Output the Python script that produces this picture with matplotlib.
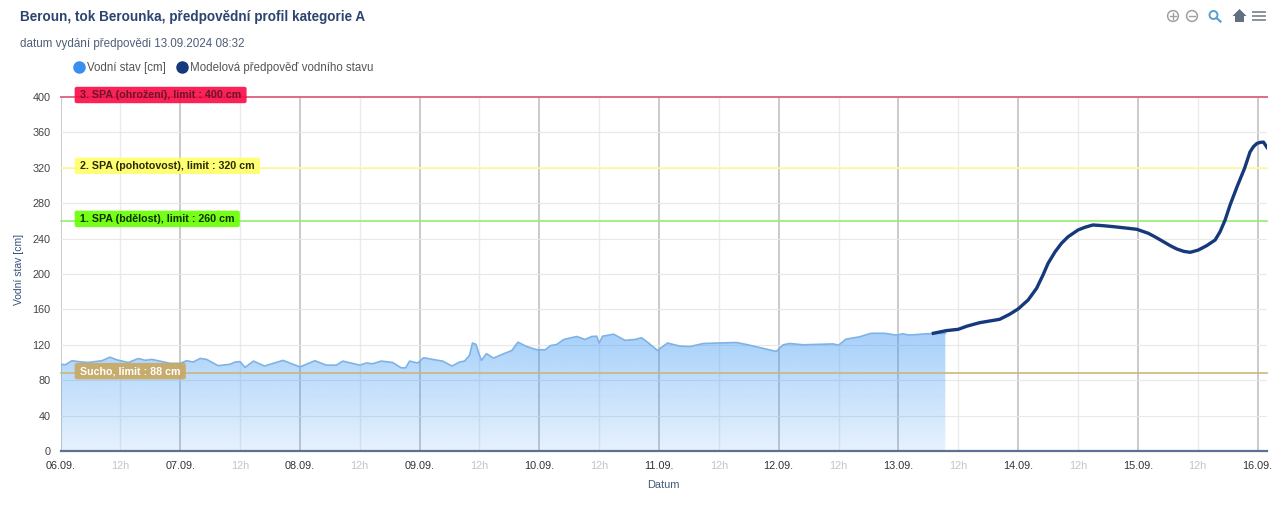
import matplotlib
matplotlib.use('Agg')
import matplotlib.pyplot as plt
from matplotlib.colors import LinearSegmentedColormap
from matplotlib.lines import Line2D
from matplotlib.patches import Circle, Rectangle, Polygon
import numpy as np

plt.rcParams['font.family'] = ['Liberation Sans', 'DejaVu Sans']

# hours since 06.09. 00:00
obs_hours = [0, 1, 2.3, 3.6, 5.5, 8.3, 9.9, 11.3, 13.6, 15.6, 17, 18.3, 20, 22, 24, 25.3, 26.6, 28, 29.3, 31.6,
             34, 35, 36, 37, 38.7, 40.9, 44.6, 48, 51, 53.3, 55.3, 56.6, 60, 61.3, 62.6, 64.3, 66.6, 68.3, 69.2,
             70, 71.6, 72.8, 74.6, 76.6, 78.5, 80, 81, 82, 82.6, 83.3, 83.9, 84.4, 85.4, 86.8, 88.9, 90.5, 91.7,
             93.5, 95.5, 97.2, 98.2, 99.5, 100.9, 103.5, 105.2, 106.5, 107.5, 108, 108.7, 110.9, 113.2, 115.2,
             116.5, 117.9, 119.7, 121.7, 124.2, 126.2, 128.9, 135.5, 137.5, 143.5, 144.9, 146.2, 148.9, 154.9,
             156, 157.5, 160.2, 162.5, 165.2, 167.5, 168.9, 170.2, 173.5, 177.4]
obs_level = [98, 97.5, 102, 101, 100, 102, 106, 103, 100, 104.5, 102.5, 103.5, 101.5, 99, 99, 102, 100.5, 104.6,
             103.5, 96.4, 98, 100.5, 101, 94.5, 101.6, 96, 102.4, 95, 102, 97, 97, 101.6, 97, 99.4, 98.6, 101.6,
             100, 94, 94, 101.6, 99.4, 105.4, 103.5, 101.6, 96, 100.5, 101.6, 108, 122, 120.5, 110, 102.4, 110,
             105, 110, 113.6, 123, 118, 114.4, 114.4, 119, 120.4, 126, 129.4, 126, 129.4, 129.7, 122, 129.7, 132,
             125, 126, 128, 122, 113.6, 122, 118.5, 118, 121.5, 122.6, 120.4, 112.5, 120, 121.5, 120, 121, 119.6,
             126.4, 129, 133, 133, 131, 132.4, 131, 132.4, 133]

fc_hours = [175, 177.6, 180, 181.7, 184.3, 188.3, 190.3, 192, 194, 195.7, 197, 198, 199.4, 200.7, 202, 204, 205.4,
            207, 209, 211.1, 213.5, 215.8, 218.1, 219.6, 221.1, 222.5, 223.8, 225.2, 226.5, 228.1, 229.8, 231.5,
            232.5, 233.5, 234.5, 235.9, 237.4, 238.5, 239.2, 239.9, 240.6, 241.2, 241.9]
fc_level = [133, 136, 137.5, 141, 145, 148.8, 154.5, 160.5, 170.6, 183.8, 199, 212, 225, 234.7, 242, 249.7, 252.8,
            255.4, 254.6, 253.5, 252, 250.5, 246, 241.5, 236.6, 232, 228.3, 225.6, 224.5, 227, 232, 238.4,
            247.9, 261, 278, 298.7, 319.4, 338, 344, 347.6, 348.8, 349, 343]

limit_values = [400, 320, 260, 88]
limit_names = ['3. SPA (ohrožení), limit : 400 cm', '2. SPA (pohotovost), limit : 320 cm',
               '1. SPA (bdělost), limit : 260 cm', 'Sucho, limit : 88 cm']
limit_lines = ['#dc6d87', '#fbfb9c', '#93ee6f', '#cdb67c']
limit_boxes = ['#fb0a45', '#ffff66', '#66ff00', '#c8a860']
limit_text = ['#6a1528', '#2a2a00', '#0c3000', '#ffffff']

y_ticks = list(range(0, 401, 40))
day_labels = ['06.09.', '07.09.', '08.09.', '09.09.', '10.09.', '11.09.', '12.09.', '13.09.', '14.09.', '15.09.', '16.09.']

fig = plt.figure(figsize=(12.8, 5.19), dpi=100)
ax = fig.add_axes([60.5 / 1280, 1 - 451 / 519, (1267 - 60.5) / 1280, (451 - 97) / 519])

# area with gradient, see-through so the grid shows under it
cmap = LinearSegmentedColormap.from_list('area', [(0.25, 0.6, 0.96, 0.13), (0.25, 0.6, 0.96, 0.46)])
poly = ax.fill_between(obs_hours, obs_level, 0, color='none', zorder=2)
grad = np.linspace(0, 1, 256).reshape(-1, 1)
im = ax.imshow(grad, extent=(0, obs_hours[-1], 0, max(obs_level)), origin='lower', aspect='auto', cmap=cmap, zorder=2)
im.set_clip_path(poly.get_paths()[0], transform=ax.transData)
ax.plot(obs_hours, obs_level, color='#7fb3e6', lw=1.2, zorder=3)
ax.plot(fc_hours, fc_level, color='#15397a', lw=2.4, zorder=4, solid_joinstyle='round')

ax.set_xlim(0, 241.9)
ax.set_ylim(0, 400)

major = [24 * i for i in range(len(day_labels))]
minor = [12 + 24 * i for i in range(len(day_labels) - 1)]
ax.set_xticks(major)
ax.set_xticklabels(day_labels)
ax.set_xticks(minor, minor=True)
ax.set_xticklabels(['12h'] * len(minor), minor=True)
ax.set_yticks(y_ticks)

ax.set_axisbelow(True)
ax.grid(True, which='major', axis='x', color='#bcbcbc', lw=1.1)
ax.grid(True, which='minor', axis='x', color='#ebebeb', lw=1.0)
ax.grid(True, which='major', axis='y', color='#e8e8e8', lw=0.8)

ax.tick_params(axis='x', which='major', length=0, pad=7.5, labelsize=7.8, labelcolor='#333333')
ax.tick_params(axis='x', which='minor', length=0, pad=7.5, labelsize=7.8, labelcolor='#c4c4c4')
ax.tick_params(axis='y', length=0, pad=7, labelsize=7.8, labelcolor='#444444')

for s in ['top', 'left', 'right']:
    ax.spines[s].set_visible(False)
ax.spines['bottom'].set_color('#5d7190')
ax.spines['bottom'].set_linewidth(1.6)

# limit lines with labels, boxes wider than tall
for v, name, lc, bc, tc in zip(limit_values, limit_names, limit_lines, limit_boxes, limit_text):
    ax.axhline(v, color=lc, lw=1.4 if v == 400 else 1.2, zorder=3, clip_on=False)
    ax.annotate(name, xy=(0, v), xycoords='data', xytext=(19.5 / 1.389, 2 / 1.389), textcoords='offset points',
                fontsize=7.7, fontweight='bold', color=tc, va='center', ha='left', zorder=5,
                bbox=dict(boxstyle='round,pad=0.5,rounding_size=0.25', mutation_aspect=0.6, fc=bc, ec='none', alpha=0.9))

ax.set_xlabel('Datum', fontsize=7.9, color='#46597a', labelpad=6)
fig.text(19 / 1280, 1 - 269 / 519, 'Vodní stav [cm]', rotation=90, fontsize=7.5, color='#34507a', ha='center', va='center')

fig.text(20 / 1280, 1 - 17 / 519, 'Beroun, tok Berounka, předpovědní profil kategorie A', fontsize=9.75,
         fontweight='bold', color='#2b4470', va='center')
fig.text(20 / 1280, 1 - 44.5 / 519, 'datum vydání předpovědi 13.09.2024 08:32', fontsize=8.35, color='#4f5f78', va='center')

handles = [Line2D([], [], ls='none', marker='o', ms=8, color='#3a8ef0'),
           Line2D([], [], ls='none', marker='o', ms=8, color='#15397a')]
leg = fig.legend(handles, ['Vodní stav [cm]', 'Modelová předpověď vodního stavu'], ncol=2, frameon=False,
                 loc='center left', bbox_to_anchor=(69 / 1280, 1 - 68 / 519), fontsize=8.3, labelcolor='#555555',
                 handletextpad=-0.2, columnspacing=0.45, handlelength=1.8, borderpad=0, borderaxespad=0)

# toolbar icons, pixel coordinates
over = fig.add_axes([0, 0, 1, 1], facecolor='none')
over.set_xlim(0, 1280)
over.set_ylim(519, 0)
over.axis('off')
for cx, sym in [(1173, '+'), (1192, '-')]:
    over.add_patch(Circle((cx, 16), 5.4, fc='none', ec='#a0a0a0', lw=1.1))
    over.plot([cx - 2.8, cx + 2.8], [16, 16], color='#a0a0a0', lw=1)
    if sym == '+':
        over.plot([cx, cx], [13.2, 18.8], color='#a0a0a0', lw=1)
over.add_patch(Circle((1213.5, 15), 4.0, fc='none', ec='#5aa0d2', lw=1.4))
over.plot([1216.5, 1220.5], [18, 21.5], color='#5aa0d2', lw=1.6)
over.add_patch(Polygon([[1232.5, 16], [1239.5, 9], [1246.5, 16]], fc='#5f7080', ec='none'))
over.add_patch(Rectangle((1235, 16), 9, 5.5, fc='#5f7080', ec='none'))
for yy in [12, 16, 20]:
    over.plot([1253, 1265], [yy, yy], color='#8a939c', lw=1.4)

fig.savefig('out.png', dpi=100)
